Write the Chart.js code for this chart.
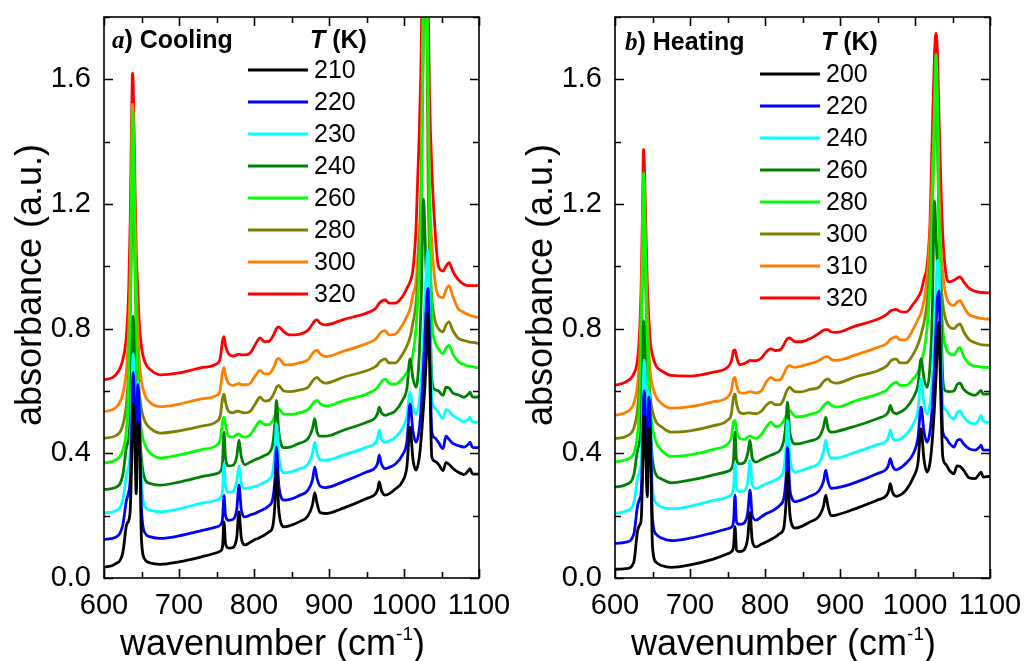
<!DOCTYPE html>
<html>
<head>
<meta charset="utf-8">
<script src="https://cdn.jsdelivr.net/npm/chart.js@4.4.0/dist/chart.umd.min.js"></script>
<style>
html, body { margin: 0; padding: 0; background: #fff; }
#wrap { position: relative; width: 1025px; height: 661px; }
canvas { position: absolute; top: 0; }
</style>
</head>
<body>
<div id="wrap">
  <canvas id="cool" width="512" height="661" style="left:0"></canvas>
  <canvas id="heat" width="513" height="661" style="left:512px"></canvas>
</div>
<script>
// wavenumber grid (cm-1), shared by every spectrum
const wavenumber = [
  600,615,625,630,633,635,637,638,639,641,
  643,645,647,650,655,662,675,700,730,750,
  755,758,760,762,766,772,777,780,783,788,
  795,802,808,814,820,825,828,830,833,836,
  840,848,860,872,878,881,884,888,895,920,
  950,962,965,967,970,975,980,988,998,1004,
  1008,1012,1016,1020,1023,1026,1028,1030,1032,1034,
  1037,1041,1046,1052,1056,1060,1065,1072,1080,1086,
  1088,1091,1095,1100
];

const coolTemps = ['210','220','230','240','260','280','300','320'];
const heatTemps = ['200','220','240','260','280','300','310','320'];
const colors = ['#000000','#0000ff','#00ffff','#008000','#00ff00','#808000','#ff8000','#ff0000'];

// a) cooling
const cool210 = [
  .034,.045,.08,.17,.185,.22,.38,.5,.56,.45,
  .27,.5,.48,.12,.058,.048,.044,.052,.068,.081,
  .086,.1,.18,.11,.096,.098,.13,.212,.13,.106,
  .115,.124,.13,.138,.148,.165,.24,.35,.22,.175,
  .164,.168,.18,.2,.235,.274,.24,.21,.207,.225,
  .255,.27,.285,.308,.28,.266,.27,.285,.31,.36,
  .484,.38,.346,.38,.45,.55,.62,.72,.85,.7,
  .39,.375,.365,.345,.37,.365,.352,.34,.332,.345,
  .351,.335,.333,.333
];
const cool220 = [
  .124,.13,.17,.25,.275,.32,.48,.6,.66,.55,
  .38,.62,.55,.22,.143,.132,.127,.135,.152,.164,
  .17,.19,.265,.2,.185,.188,.22,.298,.22,.196,
  .202,.208,.215,.222,.232,.255,.32,.42,.3,.26,
  .25,.252,.264,.282,.315,.356,.32,.295,.29,.31,
  .34,.355,.37,.394,.365,.351,.355,.365,.395,.44,
  .559,.47,.436,.47,.55,.68,.78,.88,.93,.78,
  .47,.45,.435,.415,.455,.445,.432,.425,.42,.43,
  .436,.42,.418,.418
];
const cool230 = [
  .209,.215,.25,.33,.36,.41,.57,.68,.72,.62,
  .48,.63,.55,.31,.228,.217,.212,.222,.24,.25,
  .258,.28,.367,.295,.275,.278,.31,.36,.305,.287,
  .29,.294,.3,.307,.316,.34,.41,.495,.39,.35,
  .338,.34,.35,.365,.4,.436,.4,.38,.378,.395,
  .42,.435,.452,.474,.445,.436,.44,.45,.48,.52,
  .596,.545,.527,.56,.64,.78,.9,1.0,1.05,.9,
  .58,.545,.53,.512,.54,.536,.522,.512,.502,.51,
  .516,.502,.5,.5
];
const cool240 = [
  .284,.29,.33,.42,.45,.52,.7,.8,.84,.68,
  .56,.6,.5,.38,.315,.303,.298,.308,.325,.335,
  .342,.37,.468,.385,.36,.362,.39,.442,.39,.364,
  .372,.38,.386,.393,.402,.43,.5,.57,.47,.43,
  .418,.42,.432,.447,.48,.511,.47,.455,.455,.475,
  .5,.515,.53,.548,.53,.522,.526,.535,.57,.61,
  .703,.64,.612,.7,.9,1.216,1.1,.97,.97,.93,
  .64,.605,.6,.586,.612,.61,.594,.588,.58,.59,
  .596,.582,.58,.582
];
const cool260 = [
  .369,.378,.41,.48,.62,.85,1.28,1.5,1.45,1.1,
  .8,.63,.54,.47,.425,.4,.385,.395,.412,.426,
  .445,.5,.516,.49,.455,.452,.46,.462,.455,.452,
  .46,.485,.503,.492,.492,.505,.52,.535,.543,.535,
  .525,.525,.53,.54,.558,.566,.57,.56,.552,.57,
  .59,.605,.612,.62,.63,.639,.625,.622,.64,.66,
  .68,.72,.8,.98,1.2,1.85,2.2,2.0,1.55,1.2,
  .84,.76,.735,.72,.738,.746,.72,.695,.685,.68,
  .68,.678,.676,.674
];
const cool280 = [
  .449,.456,.49,.56,.67,.83,1.12,1.3,1.28,1.03,
  .8,.67,.6,.54,.5,.48,.465,.472,.487,.502,
  .52,.575,.59,.565,.535,.53,.535,.535,.532,.53,
  .535,.56,.58,.568,.57,.585,.6,.612,.618,.61,
  .6,.598,.603,.612,.632,.64,.644,.634,.625,.645,
  .665,.678,.685,.692,.698,.703,.69,.69,.718,.745,
  .772,.82,.88,1.05,1.25,1.75,2.0,1.85,1.3,1.04,
  .9,.83,.8,.79,.812,.822,.795,.77,.762,.758,
  .757,.756,.755,.752
];
const cool300 = [
  .534,.545,.59,.67,.8,.98,1.33,1.52,1.48,1.2,
  .95,.8,.7,.63,.585,.562,.55,.558,.575,.586,
  .605,.66,.676,.65,.625,.618,.622,.624,.62,.62,
  .625,.65,.666,.655,.655,.67,.685,.7,.705,.698,
  .685,.684,.69,.7,.72,.728,.73,.72,.71,.728,
  .752,.766,.775,.782,.79,.794,.78,.782,.812,.84,
  .863,.91,.95,1.1,1.3,2.0,2.35,2.1,1.6,1.25,
  1.08,.96,.905,.9,.925,.938,.905,.865,.852,.845,
  .843,.84,.838,.836
];
const cool320 = [
  .636,.65,.7,.78,.93,1.15,1.5,1.62,1.58,1.3,
  1.05,.93,.82,.74,.69,.668,.652,.658,.675,.687,
  .705,.76,.774,.745,.72,.712,.716,.718,.716,.716,
  .722,.75,.77,.758,.76,.775,.79,.8,.806,.8,
  .79,.78,.782,.795,.815,.825,.828,.818,.812,.83,
  .85,.865,.875,.882,.888,.892,.882,.882,.903,.93,
  .95,.99,1.12,1.4,1.7,2.3,2.7,2.5,1.9,1.55,
  1.32,1.13,1.0,.985,1.0,1.012,.985,.958,.942,.938,
  .938,.938,.938,.938
];

// b) heating
const heat200 = [
  .028,.03,.05,.15,.17,.19,.36,.48,.52,.4,
  .26,.48,.44,.1,.05,.04,.034,.042,.06,.078,
  .084,.1,.165,.09,.085,.09,.13,.21,.12,.1,
  .108,.116,.124,.132,.143,.16,.24,.34,.21,.17,
  .16,.165,.18,.198,.23,.266,.23,.2,.202,.222,
  .25,.265,.28,.303,.275,.262,.266,.282,.324,.37,
  .479,.38,.34,.37,.44,.55,.64,.75,.82,.62,
  .39,.365,.345,.335,.36,.358,.345,.322,.319,.335,
  .34,.324,.325,.326
];
const heat220 = [
  .111,.115,.14,.23,.255,.28,.44,.56,.6,.5,
  .36,.58,.52,.19,.14,.128,.12,.128,.145,.158,
  .163,.18,.266,.18,.172,.176,.21,.282,.2,.186,
  .196,.207,.213,.222,.234,.255,.32,.42,.29,.255,
  .245,.25,.262,.28,.31,.346,.31,.288,.289,.306,
  .335,.35,.365,.383,.36,.347,.352,.368,.4,.45,
  .548,.47,.436,.47,.55,.68,.8,.9,.92,.72,
  .47,.45,.432,.42,.44,.445,.43,.415,.41,.42,
  .426,.41,.41,.41
];
const heat240 = [
  .207,.215,.24,.32,.345,.38,.55,.65,.7,.6,
  .47,.6,.52,.29,.24,.228,.222,.23,.248,.26,
  .268,.29,.367,.29,.278,.28,.31,.378,.3,.287,
  .295,.303,.308,.315,.324,.35,.42,.506,.39,.35,
  .34,.345,.355,.37,.405,.442,.405,.385,.385,.403,
  .428,.44,.455,.474,.45,.442,.445,.46,.495,.54,
  .639,.56,.527,.56,.64,.8,.93,1.02,1.0,.8,
  .56,.54,.52,.51,.53,.536,.515,.5,.495,.512,
  .522,.505,.5,.5
];
const heat260 = [
  .292,.3,.33,.41,.44,.5,.7,.826,.8,.62,
  .56,.6,.48,.38,.33,.318,.305,.314,.33,.342,
  .35,.38,.468,.38,.366,.37,.4,.442,.385,.372,
  .38,.388,.394,.4,.41,.44,.5,.564,.47,.44,
  .43,.432,.44,.452,.485,.516,.48,.468,.47,.487,
  .512,.525,.537,.554,.535,.527,.532,.545,.58,.62,
  .703,.64,.612,.68,.85,1.21,1.1,1.0,.97,.93,
  .64,.6,.598,.6,.62,.625,.605,.592,.586,.598,
  .602,.59,.59,.591
];
const heat280 = [
  .372,.38,.4,.46,.57,.74,1.08,1.3,1.25,.98,
  .75,.62,.54,.48,.435,.41,.39,.395,.412,.43,
  .45,.5,.506,.475,.448,.445,.452,.456,.452,.448,
  .46,.485,.5,.486,.49,.505,.52,.53,.538,.53,
  .518,.518,.525,.535,.552,.56,.564,.555,.548,.568,
  .59,.603,.61,.616,.622,.628,.618,.618,.64,.66,
  .69,.73,.8,.95,1.15,1.5,1.68,1.5,1.15,.95,
  .8,.74,.72,.715,.73,.74,.71,.688,.68,.678,
  .677,.676,.676,.676
];
const heat300 = [
  .447,.455,.48,.54,.64,.78,1.02,1.15,1.12,.93,
  .75,.65,.58,.535,.5,.485,.468,.472,.488,.506,
  .525,.58,.591,.56,.532,.527,.53,.53,.528,.527,
  .535,.555,.564,.556,.556,.575,.595,.605,.612,.605,
  .598,.597,.605,.612,.63,.636,.639,.63,.625,.645,
  .665,.68,.688,.695,.7,.703,.69,.69,.72,.75,
  .78,.82,.88,1.02,1.2,1.42,1.5,1.38,1.12,.98,
  .88,.83,.805,.8,.81,.815,.79,.765,.755,.75,
  .749,.748,.747,.746
];
const heat310 = [
  .522,.532,.56,.62,.72,.88,1.15,1.28,1.25,1.03,
  .85,.74,.66,.615,.58,.56,.545,.55,.565,.58,
  .6,.64,.644,.62,.595,.593,.596,.598,.596,.594,
  .6,.63,.644,.635,.636,.655,.67,.678,.682,.678,
  .676,.68,.688,.698,.707,.71,.71,.702,.698,.715,
  .74,.752,.76,.766,.77,.774,.764,.765,.8,.83,
  .85,.89,.96,1.1,1.28,1.5,1.6,1.5,1.25,1.08,
  .98,.91,.88,.875,.885,.89,.87,.845,.838,.834,
  .833,.832,.831,.831
];
const heat320 = [
  .618,.63,.655,.7,.8,.95,1.22,1.375,1.34,1.14,
  .95,.84,.76,.715,.68,.665,.65,.648,.66,.676,
  .695,.728,.732,.71,.685,.688,.694,.698,.697,.697,
  .705,.726,.735,.73,.732,.748,.762,.768,.77,.765,
  .758,.758,.768,.785,.795,.797,.797,.79,.788,.808,
  .83,.845,.852,.856,.86,.862,.855,.853,.88,.9,
  .92,.96,1.0,1.14,1.42,1.68,1.748,1.68,1.48,1.3,
  1.1,.98,.95,.955,.962,.966,.95,.93,.92,.917,
  .916,.916,.915,.915
];

const SANS = "'Liberation Sans', Arial, sans-serif";
const SERIF = "'Liberation Serif', 'Times New Roman', serif";
Chart.defaults.font.family = SANS;
Chart.defaults.color = '#000';

// box round the plot + inward ticks on all four sides
const framePlugin = {
  id: 'frame',
  afterDatasetsDraw(chart) {
    const { ctx, chartArea: a, scales: { x, y } } = chart;
    ctx.save();
    ctx.strokeStyle = '#000';
    ctx.lineWidth = 1.6;
    ctx.beginPath();
    x.ticks.forEach(t => {
      const px = Math.round(x.getPixelForValue(t.value)) + 0.5;
      const len = t.label ? 9 : 6;
      ctx.moveTo(px, a.bottom); ctx.lineTo(px, a.bottom - len);
      ctx.moveTo(px, a.top); ctx.lineTo(px, a.top + len);
    });
    y.ticks.forEach(t => {
      const py = Math.round(y.getPixelForValue(t.value)) + 0.5;
      const len = t.label ? 9 : 6;
      ctx.moveTo(a.left, py); ctx.lineTo(a.left + len, py);
      ctx.moveTo(a.right, py); ctx.lineTo(a.right - len, py);
    });
    ctx.stroke();
    ctx.strokeRect(a.left, a.top, a.right - a.left, a.bottom - a.top);
    ctx.restore();
  }
};

function makePanel(id, temps, series, o) {
  const datasets = series.map((vals, i) => ({
    label: temps[i],
    data: wavenumber.map((w, k) => ({ x: w, y: vals[k] })),
    borderColor: colors[i],
    borderWidth: 2.8,
    pointRadius: 0,
    cubicInterpolationMode: 'monotone',
    fill: false,
    clip: 0
  }));

  const textPlugin = {
    id: 'texts',
    afterDraw(chart) {
      const { ctx, chartArea: a } = chart;
      ctx.save();
      ctx.fillStyle = '#000';

      // y title
      ctx.save();
      ctx.translate(o.yTitleX, 285);
      ctx.rotate(-Math.PI / 2);
      ctx.font = '36px ' + SANS;
      ctx.textAlign = 'center';
      ctx.textBaseline = 'alphabetic';
      ctx.fillText('absorbance (a.u.)', 0, 0);
      ctx.restore();

      // x title with superscript
      ctx.textAlign = 'left';
      ctx.textBaseline = 'alphabetic';
      let xx = a.left + 16;
      ctx.font = '36px ' + SANS;
      ctx.fillText('wavenumber (cm', xx, 655);
      xx += ctx.measureText('wavenumber (cm').width;
      ctx.font = '19px ' + SANS;
      ctx.fillText('-1', xx, 640);
      xx += ctx.measureText('-1').width;
      ctx.font = '36px ' + SANS;
      ctx.fillText(')', xx, 655);

      // panel label, e.g. "a) Cooling"
      xx = a.left + o.labelDx;
      ctx.font = 'bold italic 25px ' + SERIF;
      ctx.fillText(o.letter, xx, o.labelY);
      xx += ctx.measureText(o.letter).width;
      ctx.font = 'bold 25px ' + SANS;
      ctx.fillText(') ' + o.label, xx, o.labelY);

      // legend header "T (K)"
      xx = a.left + 206;
      ctx.font = 'bold italic 25px ' + SANS;
      ctx.fillText('T', xx, o.labelY);
      xx += ctx.measureText('T').width;
      ctx.font = 'bold 25px ' + SANS;
      ctx.fillText(' (K)', xx, o.labelY);

      // legend entries
      ctx.font = '25px ' + SANS;
      ctx.textBaseline = 'middle';
      chart.data.datasets.forEach((ds, i) => {
        const ry = o.legendY + i * 32;
        ctx.strokeStyle = ds.borderColor;
        ctx.lineWidth = 3;
        ctx.beginPath();
        ctx.moveTo(a.left + o.lineX0, ry);
        ctx.lineTo(a.left + o.lineX0 + 60, ry);
        ctx.stroke();
        ctx.fillText(ds.label, a.left + o.lineX0 + 66, ry + 1);
      });
      ctx.restore();
    }
  };

  return new Chart(document.getElementById(id), {
    type: 'line',
    data: { datasets },
    options: {
      responsive: false,
      animation: false,
      events: [],
      layout: { padding: { top: 17, right: o.padRight, left: 0, bottom: 0 } },
      plugins: { legend: { display: false }, tooltip: { enabled: false } },
      scales: {
        x: {
          type: 'linear', min: 600, max: 1100,
          grid: { display: false, drawTicks: false },
          border: { display: false },
          ticks: {
            stepSize: 50, autoSkip: false, maxRotation: 0, padding: 11,
            font: { size: 29 }, color: '#000',
            callback: v => (v % 100 === 0 ? String(v) : '')
          },
          afterFit: s => { s.height = 83; s.paddingLeft = 0; s.paddingRight = 0; }
        },
        y: {
          type: 'linear', min: 0, max: 1.8,
          grid: { display: false, drawTicks: false },
          border: { display: false },
          ticks: {
            stepSize: 0.2, autoSkip: false, padding: 13,
            font: { size: 29 }, color: '#000',
            callback: v => (Math.round(v * 10) % 4 === 0 ? v.toFixed(1) : '')
          },
          afterFit: s => { s.width = o.axisWidth; s.paddingTop = 0; s.paddingBottom = 0; }
        }
      }
    },
    plugins: [framePlugin, textPlugin]
  });
}

makePanel('cool', coolTemps,
  [cool210, cool220, cool230, cool240, cool260, cool280, cool300, cool320],
  { axisWidth: 104, padRight: 33, yTitleX: 41, letter: 'a', label: 'Cooling',
    labelDx: 8, labelY: 48, lineX0: 144, legendY: 70 });

makePanel('heat', heatTemps,
  [heat200, heat220, heat240, heat260, heat280, heat300, heat310, heat320],
  { axisWidth: 103, padRight: 35, yTitleX: 40, letter: 'b', label: 'Heating',
    labelDx: 10, labelY: 50, lineX0: 145, legendY: 74 });
</script>
</body>
</html>
